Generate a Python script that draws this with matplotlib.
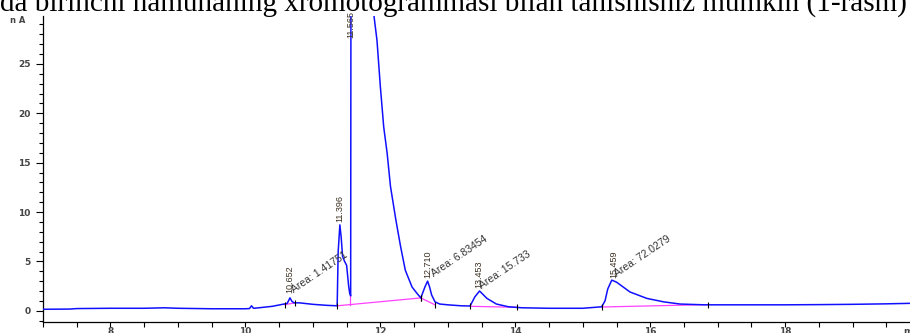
import matplotlib
matplotlib.use('Agg')
import matplotlib.pyplot as plt
from matplotlib.ticker import MultipleLocator

# chromatogram trace (min, nA); 40 = off scale
rt = [7.0, 7.4, 7.5, 8.0, 8.5, 8.8, 9.0, 9.5, 10.0, 10.06, 10.09, 10.12,
      10.2, 10.4, 10.55, 10.62, 10.66, 10.69, 10.72, 10.8, 11.0, 11.2, 11.36,
      11.375, 11.40, 11.42, 11.44, 11.47, 11.50, 11.53, 11.545, 11.56, 11.565,
      11.6, 11.88, 11.905, 11.95, 12.0, 12.05, 12.1, 12.15, 12.23, 12.3,
      12.37, 12.47, 12.55, 12.6, 12.66, 12.70, 12.73, 12.76, 12.81, 12.88,
      13.0, 13.2, 13.33, 13.40, 13.47, 13.58, 13.72, 13.9, 14.1, 14.5, 15.0,
      15.28, 15.33, 15.37, 15.43, 15.5, 15.7, 15.95, 16.2, 16.44, 16.8, 17.2,
      17.6, 18.0, 18.5, 19.0, 19.5, 19.85]
signal = [0.15, 0.17, 0.22, 0.25, 0.25, 0.3, 0.25, 0.2, 0.2, 0.22, 0.5, 0.25,
          0.3, 0.45, 0.65, 0.75, 1.3, 0.95, 0.8, 0.8, 0.65, 0.55, 0.5,
          6.0, 8.7, 7.4, 5.5, 5.0, 4.6, 2.5, 1.8, 1.5, 40,
          40, 40, 29.9, 27.4, 22.7, 18.6, 16.0, 12.6, 9.2, 6.5,
          4.1, 2.4, 1.7, 1.3, 2.4, 3.0, 2.4, 1.6, 0.9, 0.68,
          0.6, 0.5, 0.48, 1.4, 2.0, 1.25, 0.68, 0.4, 0.3, 0.25, 0.25,
          0.4, 1.0, 2.2, 3.1, 2.9, 1.9, 1.25, 0.9, 0.68, 0.6, 0.6,
          0.6, 0.6, 0.62, 0.65, 0.7, 0.75]

# integration baselines (start, end)
base_x = [(10.58, 10.74), (11.36, 12.6), (12.6, 12.81), (13.33, 14.02), (15.28, 16.85)]
base_y = [(0.62, 0.8), (0.5, 1.3), (1.3, 0.6), (0.45, 0.35), (0.38, 0.62)]

peak_rt = [10.652, 11.396, 11.565, 12.710, 13.453, 15.459]
peak_lbl = ['10.652', '11.396', '11.565', '12.710', '13.453', '15.459']
peak_lbl_y = [1.8, 9.0, 27.6, 3.3, 2.3, 3.3]

area_lbl = ['Area: 1.41751', 'Area: 6.83454', 'Area: 15.733', 'Area: 72.0279']
area_x = [10.74, 12.81, 13.52, 15.53]
area_y = [1.6, 3.3, 2.0, 3.3]

fig = plt.figure(figsize=(9.1, 3.33), dpi=100)
ax = fig.add_axes([43 / 910, 1 - 321.7 / 333, 1 - 43 / 910, (321.7 - 16) / 333])

ax.plot(rt, signal, color='#1010ff', lw=1.1, zorder=3)
for (x0, x1), (y0, y1) in zip(base_x, base_y):
    ax.plot([x0, x1], [y0, y1], color='#ff40ff', lw=0.9, zorder=2)
    ax.plot([x0, x1], [y0, y1], ls='none', marker='|', ms=4, mew=0.8, color='k', zorder=4)
# drop line under the 11.565 peak
ax.plot([11.55, 11.55], [0.6, 1.5], color='#ff40ff', lw=0.9, zorder=2)

for x, s, y in zip(peak_rt, peak_lbl, peak_lbl_y):
    ax.text(x, y, s, rotation=90, ha='center', va='bottom', fontsize=6.5,
            color='#3b2f20', family='Liberation Sans')
for x, y, s in zip(area_x, area_y, area_lbl):
    ax.text(x, y, s, rotation=34, rotation_mode='anchor', ha='left', va='bottom',
            fontsize=7.5, color='#333333', family='Liberation Sans')

ax.set_xlim(7, 19.85)
ax.set_ylim(-1.11, 29.86)
ax.xaxis.set_major_locator(MultipleLocator(2))
ax.xaxis.set_minor_locator(MultipleLocator(0.5))
ax.yaxis.set_major_locator(MultipleLocator(5))
ax.yaxis.set_minor_locator(MultipleLocator(1))
for side in ['top', 'right']:
    ax.spines[side].set_visible(False)
for side in ['left', 'bottom']:
    ax.spines[side].set_linewidth(0.9)
ax.tick_params(axis='both', which='both', direction='out', labelsize=6.5,
               labelcolor='#444444', width=0.8)
ax.tick_params(axis='y', which='major', length=5, pad=4)
ax.tick_params(axis='y', which='minor', length=3)
ax.tick_params(axis='x', which='both', length=3.5, pad=0)
for lab in ax.get_xticklabels() + ax.get_yticklabels():
    lab.set_family('DejaVu Sans')
    lab.set_fontweight('bold')

fig.text(10 / 910, 1 - 23 / 333, 'n A', fontsize=6, color='#444444',
         family='DejaVu Sans', fontweight='bold', va='baseline')
fig.text(903 / 910, 1 - 334 / 333, 'min', fontsize=6.5, color='#444444',
         family='DejaVu Sans', fontweight='bold', va='baseline')
fig.text(0, 1 - 11 / 333, 'da birinchi namunaning xromotogrammasi bilan tanishishiz mumkin (1-rasm)',
         fontsize=21, family='Liberation Serif', va='baseline', ha='left')

fig.savefig('out.png', dpi=100)
